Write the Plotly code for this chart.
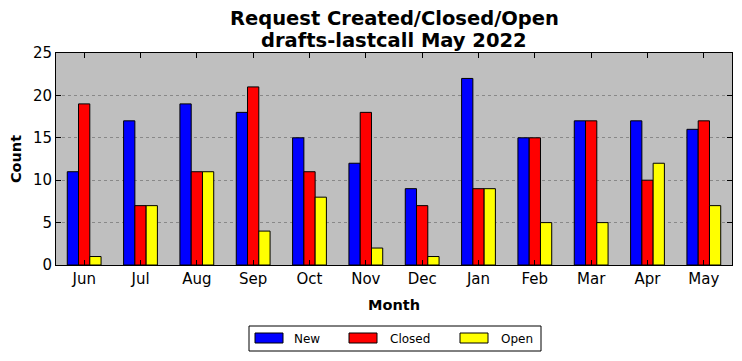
import plotly.graph_objects as go

months = ["Jun", "Jul", "Aug", "Sep", "Oct", "Nov", "Dec", "Jan", "Feb", "Mar", "Apr", "May"]
new_vals = [11, 17, 19, 18, 15, 12, 9, 22, 15, 17, 17, 16]
closed_vals = [19, 7, 11, 21, 11, 18, 7, 9, 15, 17, 10, 17]
open_vals = [1, 7, 11, 4, 8, 2, 1, 9, 5, 5, 12, 7]
y_ticks = [0, 5, 10, 15, 20, 25]
series_names = ["New", "Closed", "Open"]
series_colors = ["#0000ff", "#ff0000", "#ffff00"]
title_lines = ["Request Created/Closed/Open", "drafts-lastcall May 2022"]

font = "DejaVu Sans"
fig = go.Figure()
for name, vals, col in zip(series_names, [new_vals, closed_vals, open_vals], series_colors):
    fig.add_trace(go.Bar(x=months, y=vals, name=name, showlegend=False,
                         marker=dict(color=col, line=dict(color="black", width=1))))

for i, line in enumerate(title_lines):
    fig.add_annotation(text="<b>%s</b>" % line, xref="paper", yref="paper", x=0.5, y=1.0,
                       yshift=35 - 22 * i, showarrow=False, xanchor="center", yanchor="middle",
                       font=dict(family=font, size=19.5, color="black"))

# legend drawn as a box below the plot (page pixel positions -> paper fractions)
def px(x):
    return (x - 56) / 676.0

def py(y):
    return (265 - y) / 212.0

fig.add_shape(type="rect", xref="paper", yref="paper", x0=px(249), x1=px(541), y0=py(351), y1=py(326),
              line=dict(color="black", width=1), fillcolor="white")
sw_x = [255, 349, 460]
tx_x = [292, 388, 499]
for name, col, sx, tx in zip(series_names, series_colors, sw_x, tx_x):
    fig.add_shape(type="rect", xref="paper", yref="paper", x0=px(sx), x1=px(sx + 28), y0=py(343), y1=py(333),
                  line=dict(color="black", width=1), fillcolor=col)
    fig.add_annotation(text=name, xref="paper", yref="paper", x=px(tx), y=py(338.5), showarrow=False,
                       xanchor="left", yanchor="middle", font=dict(family=font, size=12, color="black"))

fig.update_layout(
    width=734, height=361,
    paper_bgcolor="white", plot_bgcolor="#bfbfbf",
    barmode="group", bargap=0.4, bargroupgap=0,
    margin=dict(l=48, r=10, t=45, b=104, autoexpand=False),
    font=dict(family=font, color="black"),
    showlegend=False,
    xaxis=dict(title=dict(text="<b>Month</b>", font=dict(size=14.5), standoff=12),
               tickfont=dict(size=15), showline=True, linecolor="black", linewidth=1,
               mirror="ticks", ticks="inside", ticklen=5, tickcolor="black",
               range=[-0.5, 11.5], showgrid=False, automargin=False),
    yaxis=dict(title=dict(text="<b>Count</b>", font=dict(size=14.5), standoff=8),
               tickfont=dict(size=15), showline=True, linecolor="black", linewidth=1,
               mirror="ticks", ticks="inside", ticklen=5, tickcolor="black",
               range=[0, 25], tickvals=y_ticks, showgrid=True, automargin=False,
               gridcolor="#888888", griddash="dot", gridwidth=1, zeroline=False),
)
fig.write_html("out.html")
